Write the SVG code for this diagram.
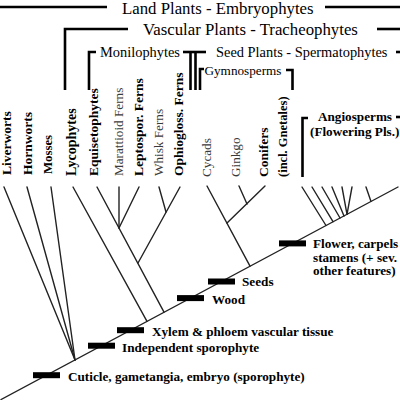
<svg xmlns="http://www.w3.org/2000/svg" width="400" height="400" viewBox="0 0 400 400">
<style>
.tree{stroke:#222;stroke-width:1.4;fill:none;stroke-linecap:round}
.br{stroke:#000;stroke-width:2.6;fill:none}
.bar{fill:#000}
.t{font-family:"Liberation Serif","Times New Roman",serif;fill:#000}
.b{font-weight:bold}
.big{font-size:16.8px}
.mid{font-size:14.4px}
.sm{font-size:13.2px}
.tx{font-family:"Liberation Serif","Times New Roman",serif;font-size:13.5px;font-weight:bold;fill:#000}
.tl{font-family:"Liberation Serif","Times New Roman",serif;font-size:13.2px;fill:#3a3a3a}
.ch{font-family:"Liberation Serif","Times New Roman",serif;font-size:13.2px;font-weight:bold;fill:#000}
</style>
<rect width="400" height="400" fill="#fff"/>

<g id="connectors" class="tree">
<line x1="1" y1="399.5" x2="398" y2="187"/>
<line x1="4" y1="187" x2="75" y2="360"/>
<line x1="27" y1="187" x2="75" y2="360"/>
<line x1="51" y1="187" x2="75" y2="360"/>
<line x1="73" y1="187" x2="147" y2="321.4"/>
<line x1="97" y1="187" x2="164" y2="312.2"/>
<line x1="119" y1="187" x2="119" y2="228"/>
<line x1="139" y1="187" x2="119" y2="228"/>
<line x1="159" y1="187" x2="166" y2="212"/>
<line x1="180" y1="187" x2="138" y2="263"/>
<line x1="207" y1="186" x2="250" y2="266.2"/>
<line x1="265" y1="186" x2="227" y2="223"/>
<line x1="239" y1="186" x2="247" y2="204"/>
<line x1="302" y1="187" x2="326" y2="225.5"/>
<line x1="312" y1="187" x2="333" y2="221.7"/>
<line x1="322" y1="187" x2="340" y2="218"/>
<line x1="332" y1="187" x2="344" y2="216"/>
<line x1="342" y1="187" x2="347" y2="214.3"/>
<line x1="352" y1="187" x2="347" y2="214.3"/>
<line x1="366" y1="187" x2="371" y2="201.4"/>
</g>

<g id="land-plants">
<line class="br" x1="0" y1="7" x2="107" y2="7"/>
<line class="br" x1="325" y1="7" x2="400" y2="7"/>
<text class="t big" x="122" y="13.5">Land Plants - Embryophytes</text>
</g>

<g id="vascular-plants">
<polyline class="br" points="65,90 65,29 128,29"/>
<line class="br" x1="377" y1="29" x2="400" y2="29"/>
<text class="t big" x="143" y="34.5">Vascular Plants - Tracheophytes</text>
</g>

<g id="monilophytes">
<polyline class="br" points="89,90 89,52 96,52"/>
<text class="t mid" x="100" y="56.5">Monilophytes</text>
<line class="br" x1="183" y1="52" x2="206" y2="52"/>
<line class="br" x1="190.5" y1="52" x2="190.5" y2="90"/>
</g>

<g id="seed-plants">
<line class="br" x1="195.5" y1="52" x2="195.5" y2="90"/>
<text class="t mid" x="216" y="56.5">Seed Plants - Spermatophytes</text>
<line class="br" x1="396" y1="52" x2="400" y2="52"/>
</g>

<g id="gymnosperms">
<polyline class="br" points="200,90 200,69 204,69"/>
<text class="t sm" x="204.5" y="74.5">Gymnosperms</text>
<polyline class="br" points="286,70 292.5,70 292.5,90"/>
</g>

<g id="angiosperms">
<polyline class="br" points="302.5,177 302.5,118 308,118"/>
<text class="ch" x="318" y="121">Angiosperms</text>
<line class="br" x1="396" y1="117" x2="400" y2="117"/>
<text class="ch" x="310" y="135.5">(Flowering Pls.)</text>
</g>

<g id="liverworts"><text class="tx" transform="translate(11,175) rotate(-90)">Liverworts</text></g>
<g id="hornworts"><text class="tx" transform="translate(32,175) rotate(-90)">Hornworts</text></g>
<g id="mosses"><text class="tx" style="font-size:12.8px" transform="translate(52,174) rotate(-90)">Mosses</text></g>
<g id="lycophytes"><text class="tx" style="font-size:14px" transform="translate(76,176) rotate(-90)">Lycophytes</text></g>
<g id="equisetophytes"><text class="tx" transform="translate(98,176) rotate(-90)">Equisetophytes</text></g>
<g id="marattioid-ferns"><text class="tl" transform="translate(123,176) rotate(-90)">Marattioid Ferns</text></g>
<g id="leptospor-ferns"><text class="tx" transform="translate(143,176) rotate(-90)">Leptospor. Ferns</text></g>
<g id="whisk-ferns"><text class="tl" transform="translate(163,176) rotate(-90)">Whisk Ferns</text></g>
<g id="ophiogloss-ferns"><text class="tx" transform="translate(183,176) rotate(-90)">Ophiogloss. Ferns</text></g>
<g id="cycads"><text class="tl" transform="translate(211,177) rotate(-90)">Cycads</text></g>
<g id="ginkgo"><text class="tl" transform="translate(240,177) rotate(-90)">Ginkgo</text></g>
<g id="conifers">
<text class="tx" transform="translate(268,177) rotate(-90)">Conifers</text>
<text class="tx" style="font-size:12.5px" transform="translate(287,177) rotate(-90)">(incl. Gnetales)</text>
</g>

<g id="char-cuticle">
<rect class="bar" x="33" y="372.2" width="27" height="6"/>
<text class="ch" x="68" y="380.7">Cuticle, gametangia, embryo (sporophyte)</text>
</g>
<g id="char-sporophyte">
<rect class="bar" x="88" y="342.7" width="27" height="6"/>
<text class="ch" x="122" y="352">Independent sporophyte</text>
</g>
<g id="char-xylem">
<rect class="bar" x="117" y="327.2" width="27" height="6"/>
<text class="ch" x="152" y="336">Xylem &amp; phloem vascular tissue</text>
</g>
<g id="char-wood">
<rect class="bar" x="177" y="295.1" width="27" height="6"/>
<text class="ch" x="212" y="304">Wood</text>
</g>
<g id="char-seeds">
<rect class="bar" x="208" y="278.5" width="27" height="6"/>
<text class="ch" x="242" y="285.5">Seeds</text>
</g>
<g id="char-flower">
<rect class="bar" x="279" y="240.4" width="27" height="6"/>
<text class="ch" x="313" y="247.5">Flower, carpels</text>
<text class="ch" x="313" y="261.5">stamens (+ sev.</text>
<text class="ch" x="313" y="275">other features)</text>
</g>
</svg>
